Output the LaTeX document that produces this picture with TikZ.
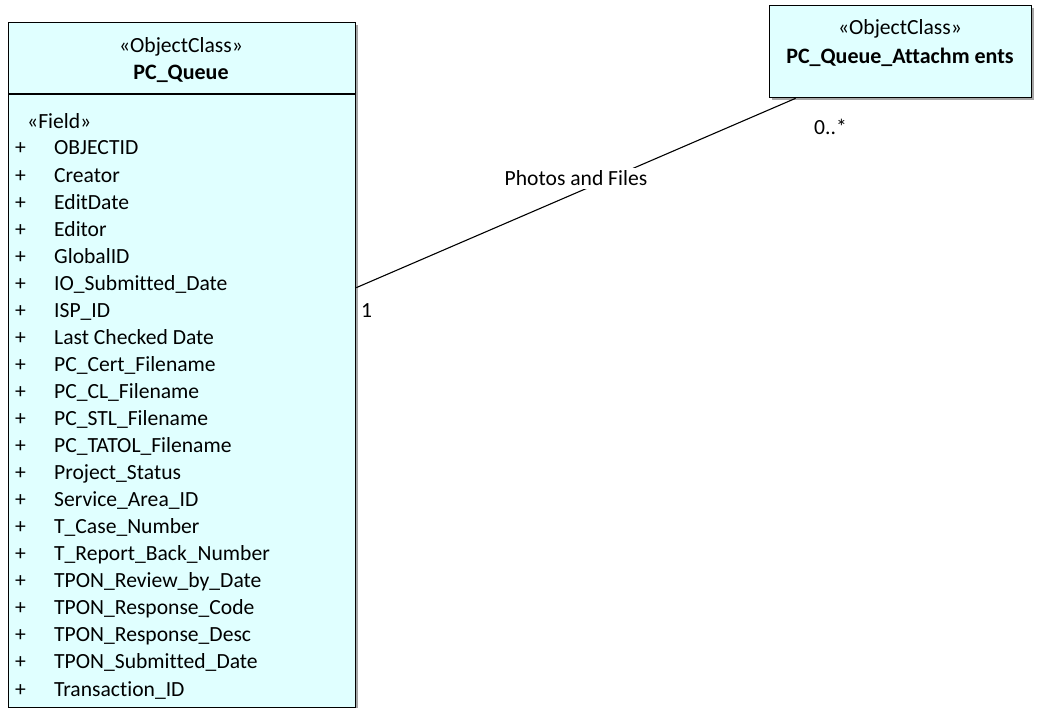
\documentclass[tikz,border=0pt]{standalone}
\usepackage{fontspec}
\setmainfont{Carlito}[Ligatures=NoCommon]
\usepackage{tikz}
\usetikzlibrary{shadows}

\definecolor{classfill}{RGB}{224,255,255}

\tikzset{
    classbox/.style={draw=black, line width=1.3pt, fill=classfill,
        drop shadow={shadow xshift=2.5pt, shadow yshift=-2.5pt, fill=gray!70, opacity=1},
        inner sep=0pt, anchor=north west},
    umltext/.style={font=\fontsize{21.6}{25}\selectfont, inner sep=0pt, anchor=base},
    fieldname/.style={umltext, anchor=base west},
}

\begin{document}
\begin{tikzpicture}[x=1pt, y=-1pt]

        \useasboundingbox (0,0) rectangle (1037,708);

        % Class boxes
        \node[classbox, minimum width=347pt, minimum height=685pt] (queue) at (8,22) {};
        \node[classbox, minimum width=262pt, minimum height=92pt] (attach) at (769,5) {};

        % Header of PC_Queue
        \node[umltext] (queuestereo) at (181,53) {«ObjectClass»};
        \node[umltext, font=\fontsize{22}{25}\selectfont\bfseries] (queuename) at (181,80) {PC\_Queue};
        \draw[line width=1.1pt] (queue.west |- 0,94) -- (queue.east |- 0,94);

        % Header of PC_Queue_Attachments
        \node[umltext] (attachstereo) at (900,35) {«ObjectClass»};
        \node[umltext, font=\fontsize{22}{25}\selectfont\bfseries] (attachname) at (900,64) {PC\_Queue\_Attachm ents};

        % Fields
        \node[fieldname] (fieldstereo) at (27,129) {«Field»};
        \foreach \name [count=\i from 0] in {OBJECTID, Creator, EditDate, Editor, GlobalID,
            IO\_Submitted\_Date, ISP\_ID, Last Checked Date, PC\_Cert\_Filename,
            PC\_CL\_Filename, PC\_STL\_Filename, PC\_TATOL\_Filename, Project\_Status,
            Service\_Area\_ID, T\_Case\_Number, T\_Report\_Back\_Number,
            TPON\_Review\_by\_Date, TPON\_Response\_Code, TPON\_Response\_Desc,
            TPON\_Submitted\_Date, Transaction\_ID} {
            \node[fieldname] (plus\i) at (15,155+27.05*\i) {+};
            \node[fieldname] (field\i) at (54,155+27.05*\i) {\name};
        }

        % Association
        \coordinate (assocA) at ([yshift=77.5pt]queue.east);
        \coordinate (assocB) at ([xshift=-105pt]attach.south);
        \draw[line width=1.1pt] (assocA) -- (assocB);
        \node[umltext, fill=white, inner sep=3pt] (assoclabel) at (576,186) {Photos and Files};
        \node[fieldname] (multA) at (361,318) {1};
        \node[fieldname] (multB) at (814,135) {0..*};

\end{tikzpicture}
\end{document}
